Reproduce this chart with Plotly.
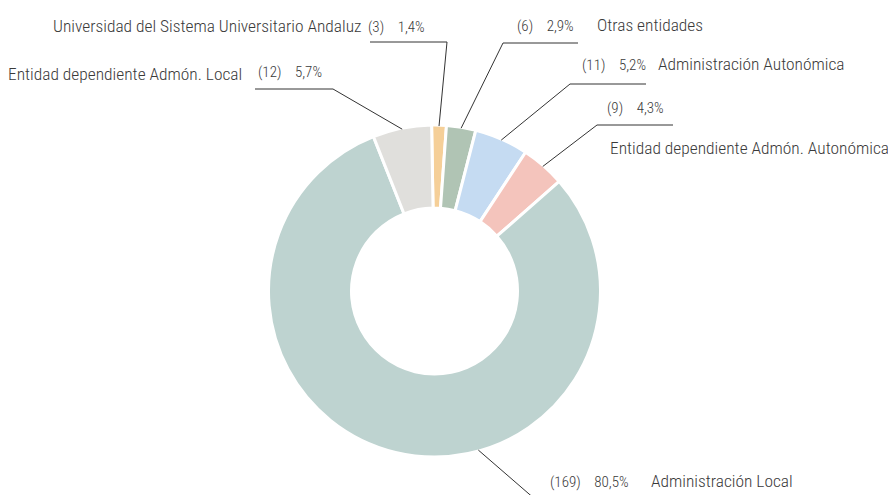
import math
import plotly.graph_objects as go

# ---- data ----
labels = [
    "Universidad del Sistema Universitario Andaluz",
    "Otras entidades",
    "Administración Autonómica",
    "Entidad dependiente Admón. Autonómica",
    "Administración Local",
    "Entidad dependiente Admón. Local",
]
counts = [3, 6, 11, 9, 169, 12]
colors = ["#f5cf98", "#b0c4b4", "#c5dbf2", "#f4c4bc", "#bed3d0", "#e0dfdc"]

total = sum(counts)
pct_text = [f"{100 * c / total:.1f}".replace(".", ",") + "%" for c in counts]
GAP = "\u00a0" * 4
num_text = [f"({c}){GAP}{p}" for c, p in zip(counts, pct_text)]

# ---- geometry (pixels) ----
W, H = 888, 495
CX, CY, R = 434.5, 291.0, 166.0
ROT = -1.0
FONT = "Roboto Condensed, Liberation Sans Narrow, Arial Narrow, Roboto, sans-serif"
TXT = "#3a3a3a"

def px(x):
    return x / W

def py(y):
    return 1 - y / H

# label layout: anchor fraction within slice, elbow, end of horizontal, number pos, name pos
label_layout = [
    dict(frac=0.5, elbow=(447, 42), end=(370, 42), num=(367, 27, "left"), name=(363, 26, "right")),
    dict(frac=0.5, elbow=(503, 43), end=(578, 43), num=(516, 26, "left"), name=(596, 25, "left")),
    dict(frac=0.5, elbow=(570, 84), end=(646, 84), num=(581, 65, "left"), name=(657, 64, "left")),
    dict(frac=0.5, elbow=(597, 125), end=(673, 125), num=(606, 108, "left"), name=(609, 148, "left")),
    dict(frac=0.40, elbow=(536, 500), end=(536, 500), num=(549, 482, "left"), name=(650, 481, "left")),
    dict(frac=0.5, elbow=(333, 89), end=(255, 89), num=(257, 72, "left"), name=(243, 74, "right")),
]

fig = go.Figure()
fig.add_trace(go.Pie(
    labels=labels,
    values=counts,
    sort=False,
    direction="clockwise",
    rotation=ROT,
    hole=0.5,
    textinfo="none",
    marker=dict(colors=colors, line=dict(color="white", width=3)),
    domain=dict(x=[px(CX - R), px(CX + R)], y=[py(CY + R), py(CY - R)]),
    showlegend=False,
    hoverinfo="label+value+percent",
))

shapes = []
annotations = []
start = ROT
for i, c in enumerate(counts):
    span = 360.0 * c / total
    lay = label_layout[i]
    a = math.radians(start + lay["frac"] * span)
    r_line = R - 1
    x0 = CX + r_line * math.sin(a)
    y0 = CY - r_line * math.cos(a)
    ex, ey = lay["elbow"]
    hx, hy = lay["end"]
    path = f"M {px(x0)} {py(y0)} L {px(ex)} {py(ey)} L {px(hx)} {py(hy)}"
    shapes.append(dict(type="path", xref="paper", yref="paper", path=path,
                       line=dict(color="#333333", width=1)))
    nx, ny, na = lay["num"]
    annotations.append(dict(x=px(nx), y=py(ny), xref="paper", yref="paper", text=num_text[i],
                            showarrow=False, xanchor=na, yanchor="middle",
                            font=dict(family=FONT, size=15, color=TXT, weight=300), borderpad=0))
    mx, my, ma = lay["name"]
    annotations.append(dict(x=px(mx), y=py(my), xref="paper", yref="paper", text=labels[i],
                            showarrow=False, xanchor=ma, yanchor="middle",
                            font=dict(family=FONT, size=17.4, color=TXT, weight=300), borderpad=0))
    start += span

fig.update_layout(
    width=W, height=H, autosize=False,
    margin=dict(l=0, r=0, t=0, b=0),
    paper_bgcolor="white", plot_bgcolor="white",
    shapes=shapes, annotations=annotations,
)

fig.write_html(
    "out.html",
    config={"displayModeBar": False},
    post_script="document.body.style.margin='0';document.body.style.padding='0';",
)
